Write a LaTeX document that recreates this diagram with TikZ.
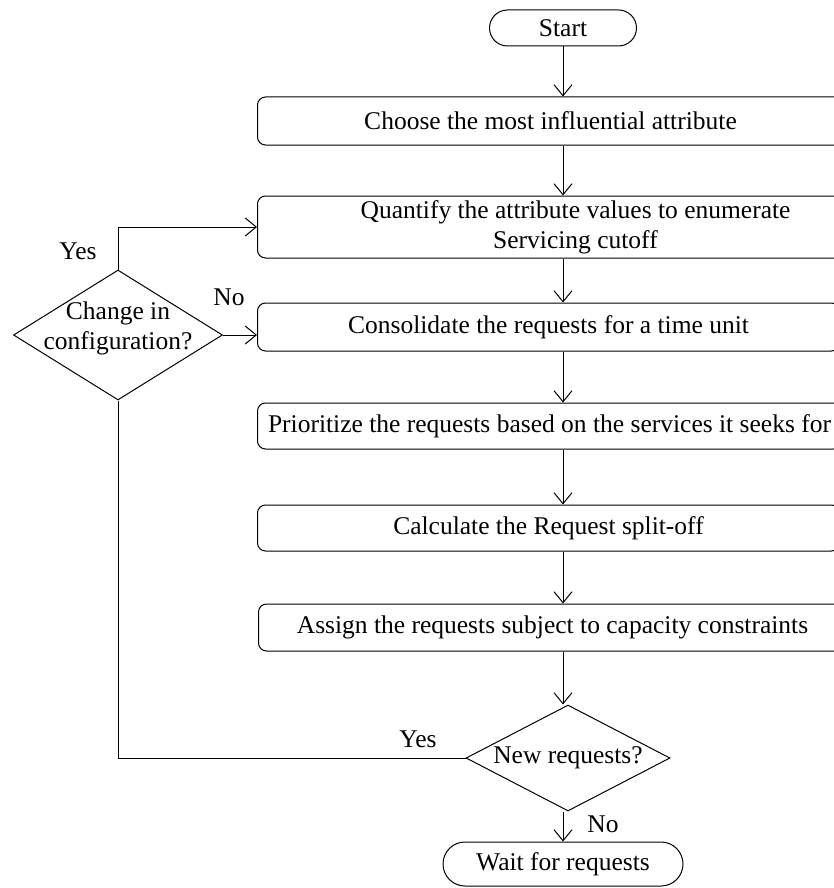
\documentclass[tikz,border=0pt]{standalone}
\usepackage{fontspec}
\setmainfont{Liberation Serif}
\usetikzlibrary{arrows.meta,shapes.geometric}

\begin{document}
\begin{tikzpicture}[x=1pt,y=-1pt,>={Straight Barb[length=11pt,width=18pt]},line width=1pt,
  font=\fontsize{25.5}{30}\selectfont,
  procbox/.style={draw,rounded corners=8pt,anchor=west,inner sep=0pt,align=center},
  termbox/.style={draw,rounded corners=18pt,inner sep=0pt},
  decbox/.style={draw,diamond,inner sep=0pt}]
\useasboundingbox (0,0) rectangle (834,888);
\clip (0,0) rectangle (834,888);
% main column
\node[termbox,minimum width=147pt,minimum height=36pt] (start) at (563,28) {Start};
\node[procbox,minimum width=586pt,minimum height=48pt] (choose) at (257,121) {Choose the most influential attribute};
\node[procbox,minimum width=636pt,minimum height=62pt] (quantify) at (257,227) {Quantify the attribute values to enumerate\\Servicing cutoff};
\node[procbox,minimum width=582pt,minimum height=48pt] (consol) at (257,327) {Consolidate the requests for a time unit};
\node[procbox,minimum width=584pt,minimum height=46pt] (prior) at (257,426) {Prioritize the requests based on the services it seeks for};
\node[procbox,minimum width=582pt,minimum height=46pt] (calc) at (257,528) {Calculate the Request split-off};
\node[procbox,minimum width=588pt,minimum height=47pt] (assign) at (258,627.5) {Assign the requests subject to capacity constraints};
\node[decbox,minimum width=204pt,minimum height=106pt,label={center:New requests?}] (newreq) at (568,758) {};
\node[termbox,minimum width=240pt,minimum height=44pt,rounded corners=22pt] (wait) at (563,864) {Wait for requests};
% side decision
\node[decbox,minimum width=209pt,minimum height=130pt,
  label={[align=center,yshift=7pt]center:Change in\\configuration?}] (config) at (118,335) {};
% labels
\node (yes1) at (78,251) {Yes};
\node (no1) at (229,297) {No};
\node (yes2) at (418,739) {Yes};
\node (no2) at (603,824) {No};
% arrows
\draw[->] (start) -- (choose.north -| start);
\draw[->] (choose.south -| start) -- (quantify.north -| start);
\draw[->] (quantify.south -| start) -- (consol.north -| start);
\draw[->] (consol.south -| start) -- (prior.north -| start);
\draw[->] (prior.south -| start) -- (calc.north -| start);
\draw[->] (calc.south -| start) -- (assign.north -| start);
\draw[->] (assign.south -| start) -- (newreq.north -| start);
\draw[->] (newreq.south -| start) -- (wait);
\draw[->] (config.north) |- (quantify.west);
\draw[->] (config.east) -- (config.east -| consol.west);
\draw (newreq.west) -| (config.south);
\end{tikzpicture}
\end{document}
